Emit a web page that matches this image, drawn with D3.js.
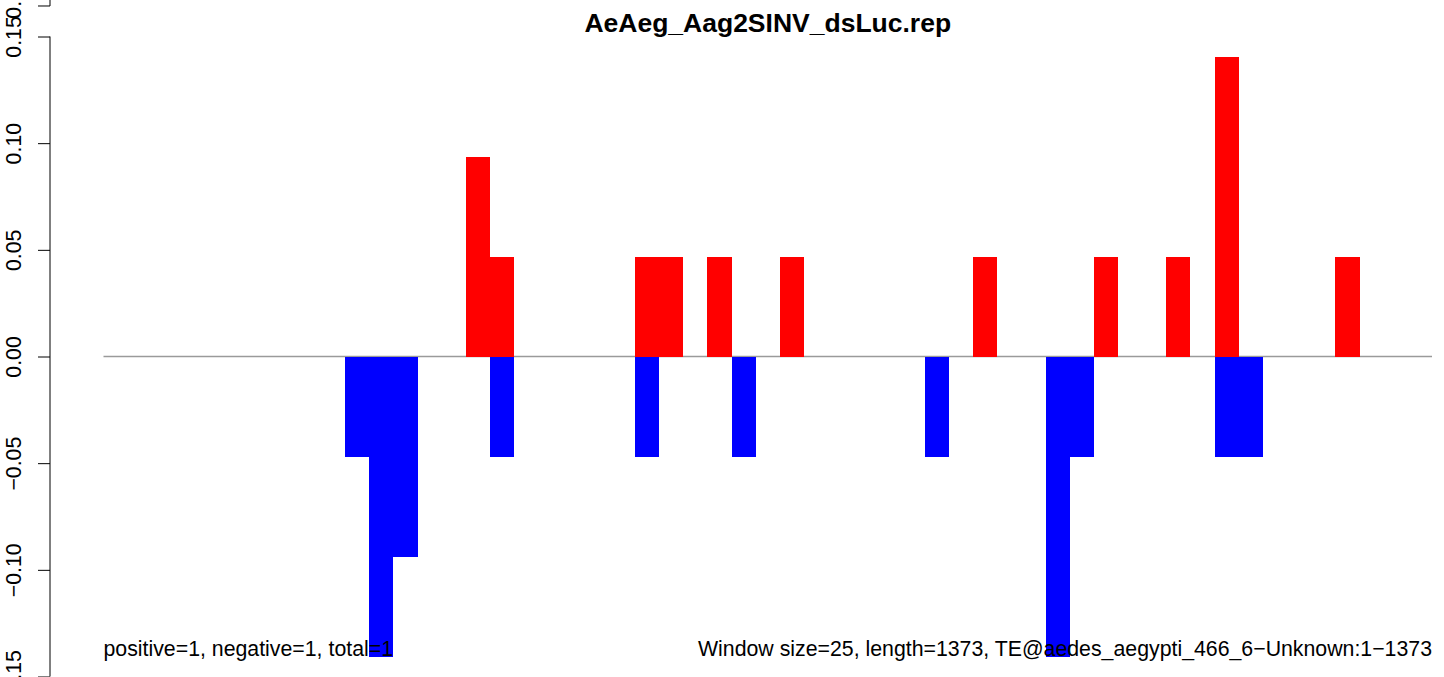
<!DOCTYPE html>
<html>
<head>
<meta charset="utf-8">
<script src="https://cdn.jsdelivr.net/npm/d3@7/dist/d3.min.js"></script>
<style>
  html, body { margin: 0; padding: 0; background: #fff; }
  svg { display: block; }
  text { font-family: "Liberation Sans", Arial, Helvetica, sans-serif; fill: #000; }
</style>
</head>
<body>
<svg id="chart" width="1444" height="677"></svg>
<script>
// ---- data ----
const titleText = "AeAeg_Aag2SINV_dsLuc.rep";
const windowSize = 25;
const seqLength = 1373;
const nWindows = 55;
const posWindows = [15, 16, 22, 23, 25, 28, 36, 41, 44, 46, 51];
const posValues  = [0.09375, 0.046875, 0.046875, 0.046875, 0.046875, 0.046875, 0.046875, 0.046875, 0.046875, 0.140625, 0.046875];
const negWindows = [10, 11, 12, 16, 22, 26, 34, 39, 40, 46, 47];
const negValues  = [-0.046875, -0.140625, -0.09375, -0.046875, -0.046875, -0.046875, -0.046875, -0.140625, -0.046875, -0.046875, -0.046875];
const yTicks = [-0.15, -0.10, -0.05, 0, 0.05, 0.10, 0.15];
const strayTick = [0.1643];
const strayLabel = ["0.15"];
const leftNote = "positive=1, negative=1, total=1";
const rightNote = "Window size=25, length=1373, TE@aedes_aegypti_466_6\u2212Unknown:1\u22121373";

// ---- layout ----
const svg = d3.select("#chart");
const baseFont = 21.3;
const titleFont = 26.5;
const axisX = 50;

const x = d3.scaleLinear().domain([0, nWindows * windowSize]).range([103.5, 1432]);
const y = d3.scaleLinear().domain([-0.15, 0.15]).range([676.5, 36.5]);

// zero line
svg.append("line")
  .attr("x1", x(0)).attr("x2", x(nWindows * windowSize))
  .attr("y1", y(0)).attr("y2", y(0))
  .attr("stroke", "#9a9a9a").attr("stroke-width", 1.5);

const pos = posWindows.map((w, i) => ({ w, v: posValues[i] }));
const neg = negWindows.map((w, i) => ({ w, v: negValues[i] }));

svg.append("g").selectAll("rect").data(pos).join("rect")
  .attr("x", d => x(d.w * windowSize))
  .attr("width", d => x((d.w + 1) * windowSize) - x(d.w * windowSize))
  .attr("y", d => y(d.v))
  .attr("height", d => y(0) - y(d.v))
  .attr("fill", "#ff0000")
  .attr("shape-rendering", "crispEdges");

svg.append("g").selectAll("rect").data(neg).join("rect")
  .attr("x", d => x(d.w * windowSize))
  .attr("width", d => x((d.w + 1) * windowSize) - x(d.w * windowSize))
  .attr("y", d => y(0))
  .attr("height", d => y(d.v) - y(0))
  .attr("fill", "#0000ff")
  .attr("shape-rendering", "crispEdges");

// y axis (R style: ticks outward, labels parallel)
const fmt = d3.format(".2f");
const yAxis = d3.axisLeft(y).tickValues(yTicks).tickFormat(fmt).tickSize(12).tickSizeOuter(0);
const gAxis = svg.append("g").attr("transform", `translate(${axisX},0)`).call(yAxis);
gAxis.select(".domain").attr("stroke", "#000").attr("stroke-width", 1)
  .attr("d", `M0,${y(0.15)}V${y(-0.15)}`);
gAxis.selectAll(".tick line").attr("stroke", "#000").attr("stroke-width", 1);
gAxis.selectAll(".tick text")
  .attr("x", null).attr("dy", null)
  .attr("transform", `translate(${21 - axisX},0) rotate(-90)`)
  .attr("text-anchor", "middle")
  .style("font-size", baseFont + "px")
  .style("font-family", '"Liberation Sans", Arial, sans-serif');

// stray tick fragment at the top edge
const stray = svg.append("g");
stray.append("line").attr("x1", axisX).attr("x2", axisX).attr("y1", 0).attr("y2", y(strayTick[0]))
  .attr("stroke", "#000");
stray.append("line").attr("x1", axisX - 12).attr("x2", axisX).attr("y1", y(strayTick[0])).attr("y2", y(strayTick[0]))
  .attr("stroke", "#000");
stray.append("text")
  .attr("transform", `translate(21,${y(strayTick[0]) - 8}) rotate(-90)`)
  .attr("text-anchor", "middle")
  .style("font-size", baseFont + "px")
  .text(strayLabel[0]);

// title
svg.append("text")
  .attr("x", (x(0) + x(nWindows * windowSize)) / 2)
  .attr("y", 32)
  .attr("text-anchor", "middle")
  .style("font-size", titleFont + "px")
  .style("font-weight", "bold")
  .text(titleText);

// notes
svg.append("text")
  .attr("x", x(0)).attr("y", 656)
  .attr("text-anchor", "start")
  .style("font-size", baseFont + "px")
  .text(leftNote);
svg.append("text")
  .attr("x", x(nWindows * windowSize)).attr("y", 656)
  .attr("text-anchor", "end")
  .style("font-size", baseFont + "px")
  .text(rightNote);
</script>
</body>
</html>
